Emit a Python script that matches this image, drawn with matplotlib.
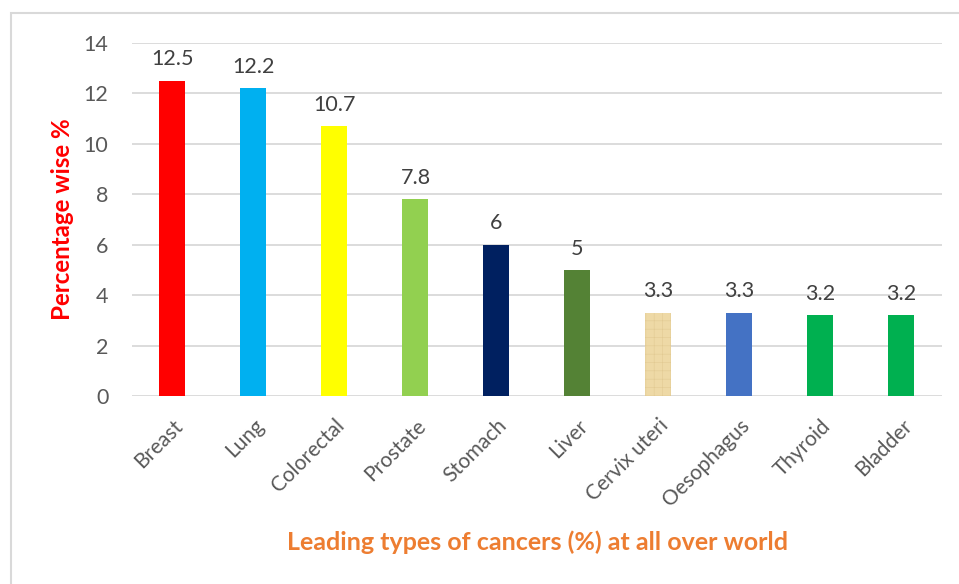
import matplotlib.pyplot as plt
from matplotlib.patches import Rectangle

plt.rcParams['font.family'] = ['Lato', 'DejaVu Sans']
plt.rcParams['hatch.linewidth'] = 0.4

cancers = ['Breast', 'Lung', 'Colorectal', 'Prostate', 'Stomach', 'Liver',
           'Cervix uteri', 'Oesophagus', 'Thyroid', 'Bladder']
percent = [12.5, 12.2, 10.7, 7.8, 6, 5, 3.3, 3.3, 3.2, 3.2]
labels = ['12.5', '12.2', '10.7', '7.8', '6', '5', '3.3', '3.3', '3.2', '3.2']
colors = ['#FF0000', '#00B0F0', '#FFFF00', '#92D050', '#002060', '#548235',
          '#EED9A6', '#4472C4', '#00B050', '#00B050']

fig = plt.figure(figsize=(9.59, 5.84), dpi=100)
ax = fig.add_axes([0.1376, 0.3219, 0.8446, 0.6045])

x = range(len(cancers))
bars = ax.bar(x, percent, width=0.32, color=colors, zorder=3)
# papery texture on the cervix bar
bars[6].set_hatch('++')
bars[6].set_edgecolor('#E2CA93')
bars[6].set_linewidth(0)

for b, t in zip(bars, labels):
    ax.text(b.get_x() + b.get_width() / 2, b.get_height() + 0.45, t,
            ha='center', va='bottom', fontsize=15.5, color='#404040')

ax.set_ylim(0, 14)
ax.set_xlim(-0.5, len(cancers) - 0.5)
ax.set_yticks(range(0, 15, 2))
ax.yaxis.grid(True, color='#D9D9D9', linewidth=1.3, zorder=0)
for s in ax.spines.values():
    s.set_visible(False)
ax.tick_params(length=0, colors='#595959', labelsize=15.5)
ax.tick_params(axis='y', pad=17)
ax.set_xticks(list(x))
ax.set_xticklabels(cancers, rotation=45, ha='right', rotation_mode='anchor',
                   fontsize=15)
ax.tick_params(axis='x', pad=14)

fig.text(0.065, 0.625, 'Percentage wise %', rotation=90, ha='center',
         va='center', color='#FF0000', fontsize=17.4, fontweight='bold')
fig.text(0.56, 0.072, 'Leading types of cancers (%) at all over world',
         ha='center', va='center', color='#ED7D31', fontsize=18,
         fontweight='bold')

fig.patches.append(Rectangle((11 / 959, -0.05), 1.1, 1 - 13 / 584 + 0.05,
                             transform=fig.transFigure, fill=False,
                             edgecolor='#D9D9D9', linewidth=1.5))

fig.savefig('out.png', dpi=100)
